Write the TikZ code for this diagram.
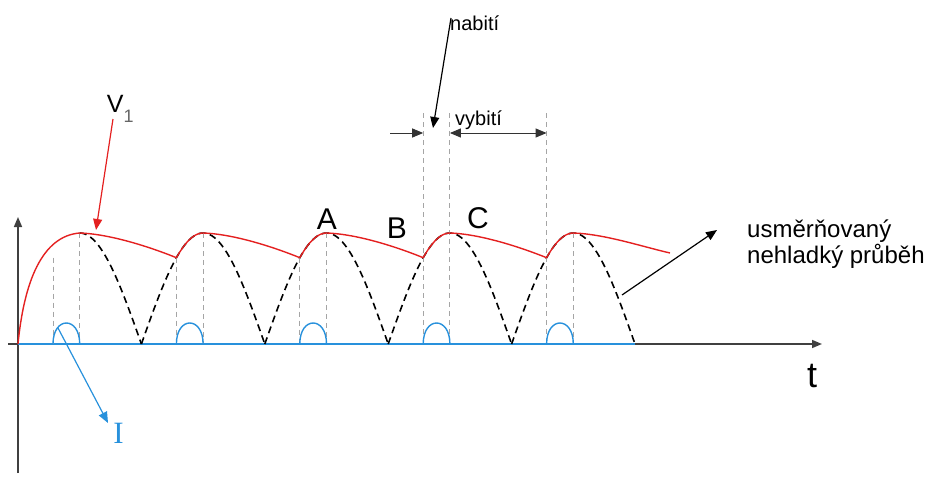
\documentclass[tikz,border=0pt]{standalone}
\usepackage{fontspec}
\setmainfont{Liberation Sans}
\newfontfamily\tmsfont{Liberation Serif}
\usepackage{tikz}
\usetikzlibrary{arrows.meta,positioning,calc}
\definecolor{vred}{RGB}{228,32,32}
\definecolor{ibl}{RGB}{40,145,220}
\definecolor{dgr}{RGB}{165,165,165}
\newcommand{\arch}[1]{344-111*sin((\x-#1)*1.45867)}

\begin{document}
\begin{tikzpicture}[x=1pt,y=-1pt,
  >={Triangle[length=11pt,width=9pt]},
  ax/.style={line width=1.5pt,black!75,-{Triangle[length=10pt,width=8pt]}},
  sw/.style={line width=1.6pt,dash pattern=on 7pt off 4.5pt},
  rc/.style={line width=1.4pt,vred,line join=round},
  gl/.style={line width=1pt,dgr,dash pattern=on 5pt off 4pt},
  pl/.style={line width=1.4pt,ibl},
  ar/.style={line width=1.2pt,->},
  lb/.style={inner sep=0pt,anchor=base,font=\fontsize{30}{32}\selectfont},
  sm/.style={inner sep=0pt,anchor=base west,font=\fontsize{20}{22}\selectfont}
]
\useasboundingbox (0,0) rectangle (929,479);
%--- axes ---
\coordinate (o) at (18,344);
\coordinate (xa0) at (8,344);   \coordinate (xa1) at (822,344);
\coordinate (ya0) at (18,473);  \coordinate (ya1) at (18,217);
\draw[ax] (ya0) -- (ya1);
\draw[ax] (xa0) -- (xa1);
%--- troughs, peaks, cut points ---
\coordinate (t5) at (635,344);
\coordinate (p1) at (79.7,233);  \coordinate (p2) at (203.1,233);
\coordinate (p3) at (326.5,233); \coordinate (p4) at (449.9,233);
\coordinate (p5) at (573.3,233);
\coordinate (c1) at (53,257.7);
\coordinate (i1) at (176.4,257.7); \coordinate (i2) at (299.8,257.7);
\coordinate (i3) at (423.2,257.7); \coordinate (i4) at (546.6,257.7);
\coordinate (e) at (670,253);
\draw[pl] (o) -- (t5);
%--- dashed half waves ---
\draw[sw] plot[domain=79.7:141.4,samples=30] (\x,{\arch{18}});
\draw[sw] plot[domain=141.4:264.8,samples=50] (\x,{\arch{141.4}});
\draw[sw] plot[domain=264.8:388.2,samples=50] (\x,{\arch{264.8}});
\draw[sw] plot[domain=388.2:511.6,samples=50] (\x,{\arch{388.2}});
\draw[sw] plot[domain=511.6:635,samples=50] (\x,{\arch{511.6}});
%--- grey guides ---
\coordinate (h3) at (423.2,113); \coordinate (h4) at (449.9,113);
\coordinate (h5) at (546.6,113);
\draw[gl] (c1) -- (c1 |- o);  \draw[gl] (p1) -- (p1 |- o);
\draw[gl] (i1) -- (i1 |- o);  \draw[gl] (p2) -- (p2 |- o);
\draw[gl] (i2) -- (i2 |- o);  \draw[gl] (p3) -- (p3 |- o);
\draw[gl] (h3) -- (i3 |- o);  \draw[gl] (h4) -- (p4 |- o);
\draw[gl] (h5) -- (i4 |- o);  \draw[gl] (p5) -- (p5 |- o);
%--- current pulses ---
\draw[pl] (c1 |- o) .. controls +(0,-28) and +(0,-28) .. (p1 |- o);
\draw[pl] (i1 |- o) .. controls +(0,-28) and +(0,-28) .. (p2 |- o);
\draw[pl] (i2 |- o) .. controls +(0,-28) and +(0,-28) .. (p3 |- o);
\draw[pl] (i3 |- o) .. controls +(0,-28) and +(0,-28) .. (p4 |- o);
\draw[pl] (i4 |- o) .. controls +(0,-28) and +(0,-28) .. (p5 |- o);
%--- rectified output ---
\draw[rc] (o) .. controls (24,282) and (42,236) .. (p1)
  .. controls (110,234) and (150,247) .. (i1)
  -- plot[domain=176.4:203.1,samples=15] (\x,{\arch{141.4}})
  .. controls (233.5,234) and (273.5,247) .. (i2)
  -- plot[domain=299.8:326.5,samples=15] (\x,{\arch{264.8}})
  .. controls (357,234) and (397,247) .. (i3)
  -- plot[domain=423.2:449.9,samples=15] (\x,{\arch{388.2}})
  .. controls (480,234) and (520,247) .. (i4)
  -- plot[domain=546.6:573.3,samples=15] (\x,{\arch{511.6}})
  .. controls (604,234) and (640,246) .. (e);
%--- labels ---
\node[lb] (A) at (327,229) {A};
\node[lb] (B) at (397,238) {B};
\node[lb] (C) at (478,228) {C};
\node[inner sep=0pt,anchor=base west,font=\fontsize{25}{27}\selectfont] (v1) at (106.7,112)
  {V\raisebox{-10pt}{\fontsize{18}{20}\selectfont\color{black!60}1}};
\node[inner sep=0pt,anchor=base,font=\fontsize{36}{38}\selectfont] (t) at (812,387) {t};
\node[inner sep=0pt,anchor=base,font=\tmsfont\fontsize{31}{33}\selectfont,text=ibl] (I) at (118.5,443) {I};
\node[sm] (nab) at (450,30) {nabití};
\node[sm] (vyb) at (455,125) {vybití};
\node[inner sep=0pt,anchor=base west,font=\fontsize{24}{26}\selectfont] (us1) at (747,237) {usměrňovaný};
\node[inner sep=0pt,anchor=base west,font=\fontsize{24}{26}\selectfont] (us2) at (747,263) {nehladký průběh};
%--- pointers ---
\coordinate (va) at (113,119); \coordinate (vb) at (96,230);
\coordinate (ia) at (58,328);  \coordinate (ib) at (108,423);
\coordinate (na) at (451,18);  \coordinate (nb) at (433,128);
\coordinate (ua) at (622,295); \coordinate (ub) at (717,230);
\coordinate (d0) at (390,133); \coordinate (d1) at (423.2,133);
\coordinate (d2) at (449.9,133); \coordinate (d3) at (546.6,133);
\draw[ar,vred] (va) -- (vb);
\draw[ar,ibl] (ia) -- (ib);
\draw[ar] (na) -- (nb);
\draw[ar] (ua) -- (ub);
\draw[ar,line width=1pt,black!80] (d0) -- (d1);
\draw[ar,line width=1pt,black!80,<->] (d2) -- (d3);
\end{tikzpicture}
\end{document}
